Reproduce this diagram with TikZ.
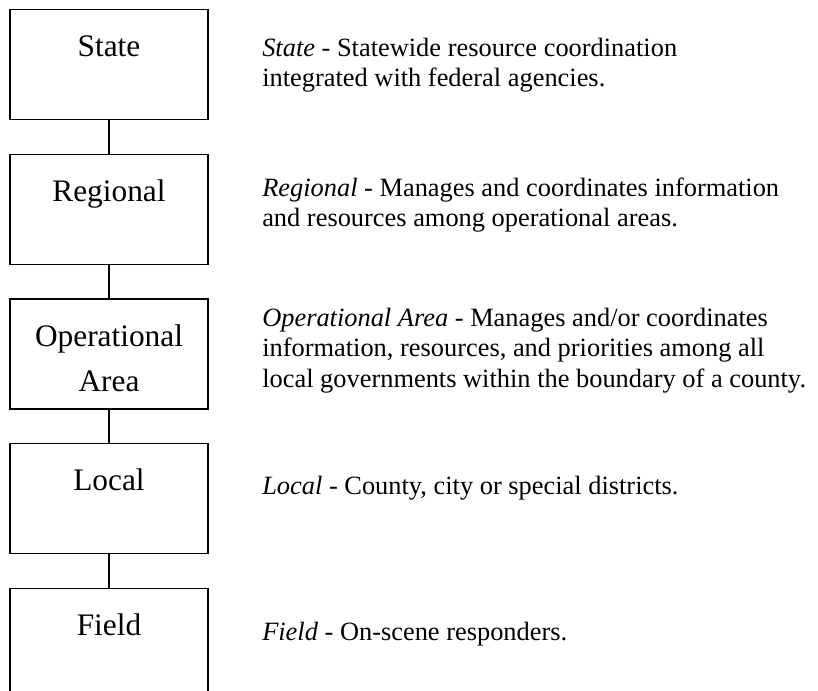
\documentclass[tikz,border=0pt]{standalone}
\usepackage{fontspec}
\setmainfont{Liberation Serif}
\usetikzlibrary{positioning}
\tikzset{%
    level/.style={draw, line width=0.9pt, inner sep=0pt, text width=148.5pt, align=center,%
        text height=35.25pt, text depth=47.25pt, font=\fontsize{23.5}{33.75}\selectfont},%
    desc/.style={anchor=base west, inner sep=0pt, text width=420pt, align=flush left, font=\fontsize{19.8}{22.9}\selectfont},%
    link/.style={line width=0.9pt},%
}

\begin{document}
\begin{tikzpicture}[x=0.75pt,y=0.75pt,yscale=-1,xscale=1]
\clip (0,0) rectangle (818,690);

%Levels
\node[level, anchor=north] (state) at (109,9) {State};
\node[level, below=25.125pt of state] (regional) {Regional};
\node[level, below=25.125pt of regional] (oparea) {Operational\\Area};
\node[level, below=25.125pt of oparea] (local) {Local};
\node[level, below=25.125pt of local] (field) {Field};

%Links
\draw[link] (state) -- (regional);
\draw[link] (regional) -- (oparea);
\draw[link] (oparea) -- (local);
\draw[link] (local) -- (field);

%Descriptions
\node[desc] (statetxt) at (262,56) {\textit{State} - Statewide resource coordination\\integrated with federal agencies.};
\node[desc] (regionaltxt) at (262,196) {\textit{Regional} - Manages and coordinates information\\and resources among operational areas.};
\node[desc] (opareatxt) at (262,326) {\textit{Operational Area} - Manages and/or coordinates\\information, resources, and priorities among all\\local governments within the boundary of a county.};
\node[desc] (localtxt) at (262,494) {\textit{Local} - County, city or special districts.};
\node[desc] (fieldtxt) at (262,640) {\textit{Field} - On-scene responders.};

\end{tikzpicture}
\end{document}
